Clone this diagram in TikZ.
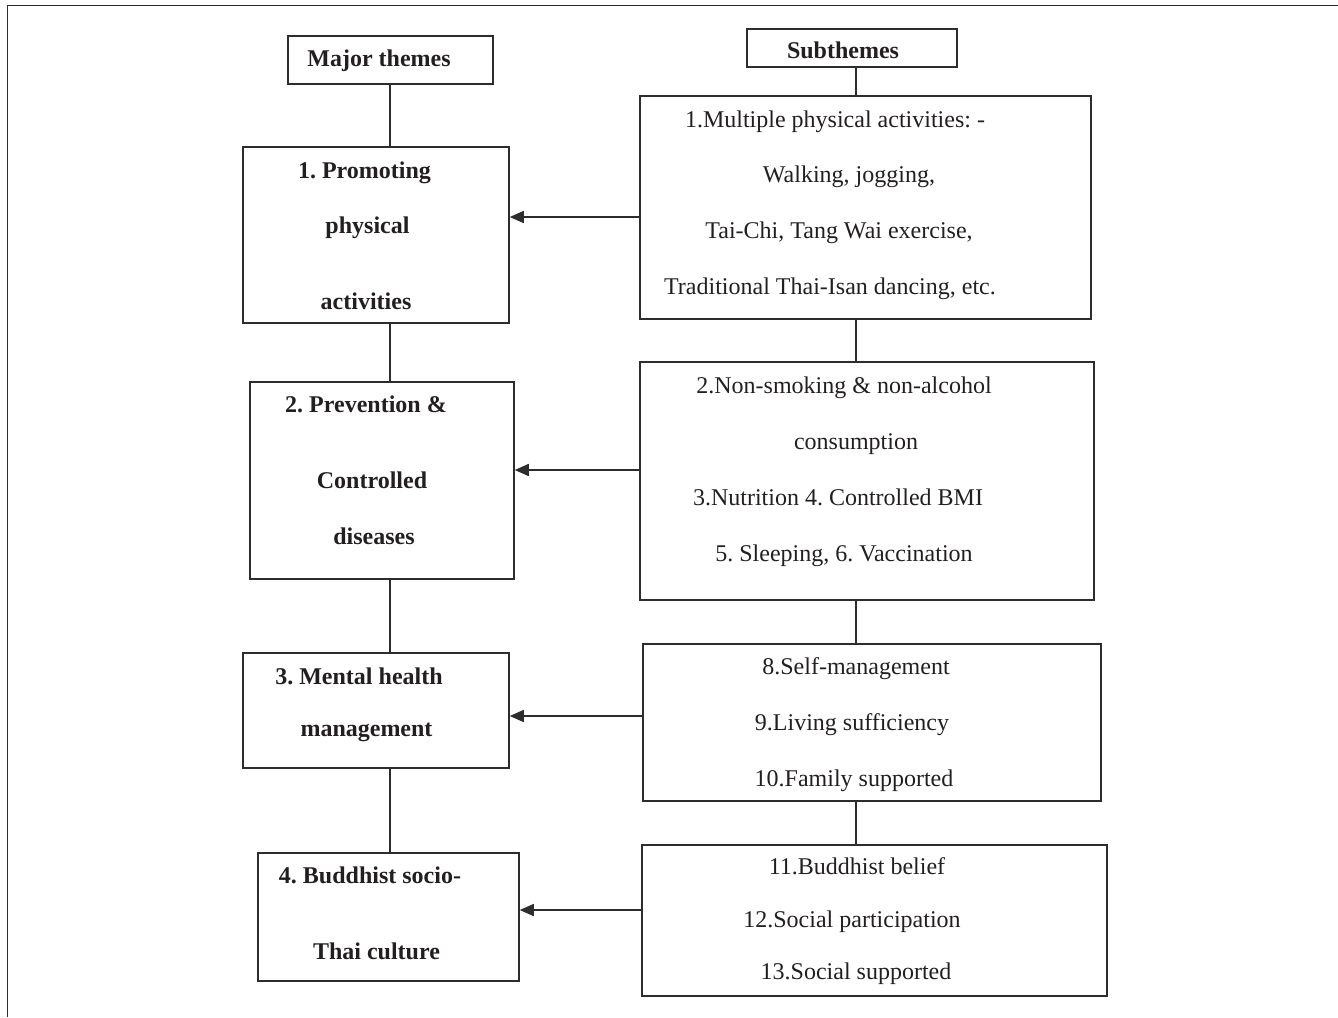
\documentclass[tikz,border=0pt]{standalone}
\usepackage{fontspec}
\setmainfont{Liberation Serif}
\usetikzlibrary{arrows.meta}
\definecolor{ink}{RGB}{35,31,32}
\definecolor{edge}{RGB}{45,45,45}
\frenchspacing
\begin{document}
\begin{tikzpicture}[x=1pt,y=-1pt,
  box/.style={draw=edge, line width=1.5pt, rectangle, inner sep=0pt},
  rt/.style={anchor=base, text=ink, inner sep=0pt, font=\fontsize{24}{28}\selectfont},
  lt/.style={anchor=base, text=ink, inner sep=0pt, font=\fontsize{24}{28}\selectfont\bfseries},
  link/.style={draw=edge, line width=1.5pt},
  arr/.style={draw=edge, line width=1.5pt, -{Triangle[length=14pt,width=12pt]}}]
\useasboundingbox (0,0) rectangle (1338,1017);
% outer frame
\draw[edge, line width=1.6pt] (7.3,1017) -- (7.3,5.5) -- (1338,5.5);
% boxes
\node[box, minimum width=205pt, minimum height=48pt] (mt) at (390.5,60) {};
\node[box, minimum width=210pt, minimum height=38pt] (st) at (852,48) {};
\node[box, minimum width=266pt, minimum height=176pt] (a1) at (376,235) {};
\node[box, minimum width=264pt, minimum height=197pt] (a2) at (382,480.5) {};
\node[box, minimum width=266pt, minimum height=115pt] (a3) at (376,710.5) {};
\node[box, minimum width=261pt, minimum height=128pt] (a4) at (388.5,917) {};
\node[box, minimum width=451pt, minimum height=223pt] (b1) at (865.5,207.5) {};
\node[box, minimum width=454pt, minimum height=238pt] (b2) at (867,481) {};
\node[box, minimum width=458pt, minimum height=157pt] (b3) at (872,722.5) {};
\node[box, minimum width=465pt, minimum height=151pt] (b4) at (874.5,920.5) {};
% texts
\node[lt] (tmt) at (379,66) {Major themes};
\node[lt] (tst) at (843,58.5) {Subthemes};
\node[lt] (ta1a) at (364.5,178) {1. Promoting};
\node[lt] (ta1b) at (367.5,233.5) {physical};
\node[lt] (ta1c) at (366,309) {activities};
\node[lt] (ta2a) at (366,412.5) {2. Prevention \&};
\node[lt] (ta2b) at (372,488.5) {Controlled};
\node[lt] (ta2c) at (374,544.5) {diseases};
\node[lt] (ta3a) at (359,684) {3. Mental health};
\node[lt] (ta3b) at (366.5,736) {management};
\node[lt] (ta4a) at (370,883) {4. Buddhist socio-};
\node[lt] (ta4b) at (376.5,959) {Thai culture};
\node[rt] (tb1a) at (835,127) {1.Multiple physical activities: -};
\node[rt] (tb1b) at (849,182.5) {Walking, jogging,};
\node[rt] (tb1c) at (839,238.5) {Tai-Chi, Tang Wai exercise,};
\node[rt] (tb1d) at (830,294.5) {Traditional Thai-Isan dancing, etc.};
\node[rt] (tb2a) at (844,393.5) {2.Non-smoking \& non-alcohol};
\node[rt] (tb2b) at (856,449.5) {consumption};
\node[rt] (tb2c) at (838,505.5) {3.Nutrition 4. Controlled BMI};
\node[rt] (tb2d) at (844,561.5) {5. Sleeping, 6. Vaccination};
\node[rt] (tb3a) at (856,674.5) {8.Self-management};
\node[rt] (tb3b) at (852,730.5) {9.Living sufficiency};
\node[rt] (tb3c) at (854,786.5) {10.Family supported};
\node[rt] (tb4a) at (857,874.5) {11.Buddhist belief};
\node[rt] (tb4b) at (852,927.5) {12.Social participation};
\node[rt] (tb4c) at (856,979.5) {13.Social supported};
% connector guides
\coordinate (lx) at (390,0);
\coordinate (rx) at (856,0);
\coordinate (y1) at (0,217);
\coordinate (y2) at (0,470);
\coordinate (y3) at (0,716);
\coordinate (y4) at (0,910);
% left chain
\draw[link] (lx |- mt.south) -- (lx |- a1.north);
\draw[link] (lx |- a1.south) -- (lx |- a2.north);
\draw[link] (lx |- a2.south) -- (lx |- a3.north);
\draw[link] (lx |- a3.south) -- (lx |- a4.north);
% right chain
\draw[link] (rx |- st.south) -- (rx |- b1.north);
\draw[link] (rx |- b1.south) -- (rx |- b2.north);
\draw[link] (rx |- b2.south) -- (rx |- b3.north);
\draw[link] (rx |- b3.south) -- (rx |- b4.north);
% arrows
\draw[arr] (b1.west |- y1) -- (a1.east |- y1);
\draw[arr] (b2.west |- y2) -- (a2.east |- y2);
\draw[arr] (b3.west |- y3) -- (a3.east |- y3);
\draw[arr] (b4.west |- y4) -- (a4.east |- y4);
\end{tikzpicture}
\end{document}
